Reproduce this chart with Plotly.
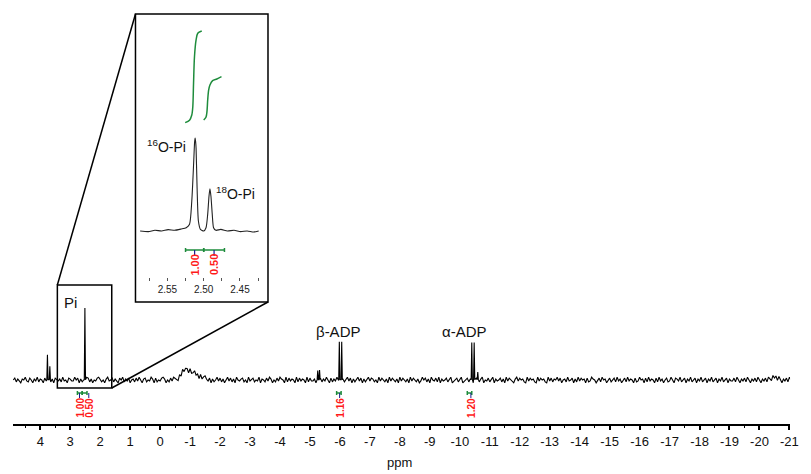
import plotly.graph_objects as go

W, H = 811, 474


def px(x):
    return x / W


def py(y):
    return 1 - y / H


# ---------------- data ----------------
# main spectrum baseline noise read as digits (4 = baseline), ppm grid 4.9 -> -21, step 0.05
grid_start = 4.9
grid_step = 0.05
noise_scale = 1.3
noise_digits = (
    "4625315473264153725416374251643527341653"
    "3746152437625143675241573462531647253614"
    "5263741562437516243675142637541627354162"
    "4735162574361524736251473625174356241735"
    "6243715426375142637541726354172635417263"
    "3517462537416253746152473615247361524736"
    "5241736425173642517364251736425137462517"
    "4362715346257134625713462571364257143625"
    "7153462517364215736452173645217364521736"
    "2547361452734615273645162375413627451362"
    "4627351462735416237451627354162735146237"
    "4165372461537246153724615372461537246153"
    "3627415362741536274153627415362741536274"
)
# broad hump near -0.9 ppm and a small one near -20.5 ppm
hump_ppm = [-0.50, -0.55, -0.60, -0.65, -0.70, -0.75, -0.80, -0.85, -0.90, -0.95, -1.00,
            -1.05, -1.10, -1.15, -1.20, -1.25, -1.30, -1.35, -1.40, -1.45, -1.50, -1.55,
            -20.35, -20.40, -20.45, -20.50, -20.55, -20.60, -20.65]
hump_height = [1, 2, 3, 5, 8, 11, 13, 15, 16, 14, 13,
               12, 10, 9, 8, 7, 6, 5, 4, 3, 2, 1,
               1, 3, 5, 4, 3, 2, 1]

peak_ppm = [3.76, 3.68, 2.51, -5.26, -5.32, -5.98, -6.06, -10.40, -10.48, -10.60]
peak_height = [35, 19, 100, 13, 14, 53, 53, 52, 52, 11]

# main integrations
main_integ_from = [2.76, 2.60, -5.89, -10.25]
main_integ_to = [2.60, 2.44, -6.04, -10.40]
main_integ_label_ppm = [2.69, 2.38, -5.99, -10.37]
main_integ_values = ["1.00", "0.50", "1.16", "1.20"]

# main axis ticks
main_tick_vals = list(range(4, -22, -1))
main_tick_text = [str(v) for v in main_tick_vals]
main_minor_vals = [v + 0.5 for v in range(4, -21, -1)]

# peak labels
peak_label_text = ["Pi", "β-ADP", "α-ADP"]
peak_label_ppm = [3.0, -5.95, -10.15]

# inset spectrum (ppm, intensity with 16O-Pi = 100)
inset_ppm = [2.5876, 2.5763, 2.5672, 2.5581, 2.5490, 2.5400, 2.5309, 2.5241, 2.5195,
             2.5164, 2.5145, 2.5132, 2.5125, 2.5118, 2.5111, 2.5105, 2.5091, 2.5073,
             2.5045, 2.5000, 2.4968, 2.4945, 2.4927, 2.4914, 2.4900, 2.4882, 2.4864,
             2.4832, 2.4764, 2.4673, 2.4582, 2.4491, 2.4401, 2.4310, 2.4242]
inset_int = [1.1, 0.4, 1.8, 1.1, 2.5, 1.8, 3.2, 4.6, 8.2,
             33, 62, 85, 96, 100, 96, 89, 47, 11.7,
             2.8, 1.1, 4.6, 18.8, 38, 46, 38, 18.8, 4.6,
             1.8, 2.8, 1.1, 1.8, 0.4, 1.1, 0.0, 1.1]

# inset integral curves
integ1_ppm = [2.5255, 2.5195, 2.5164, 2.5150, 2.5140, 2.5127, 2.5105, 2.5082, 2.5027]
integ1_val = [116.3, 119, 124.5, 133.3, 158.2, 186.5, 204.3, 211.4, 213.8]
integ2_ppm = [2.5000, 2.4969, 2.4955, 2.4945, 2.4932, 2.4914, 2.4877, 2.4819, 2.4755]
integ2_val = [119.1, 122, 128, 140.4, 151, 156.4, 161, 162.8, 165.2]

# inset integrations
inset_integ_from = [2.5250, 2.5000]
inset_integ_to = [2.5000, 2.4714]
inset_integ_values = ["1.00", "0.50"]

inset_tick_vals = [2.55, 2.50, 2.45]
inset_tick_text = ["2.55", "2.50", "2.45"]
inset_minor_vals = [2.575, 2.525, 2.475, 2.425]
inset_labels = ["<sup>16</sup>O-Pi", "<sup>18</sup>O-Pi"]

# ---------------- build main trace ----------------
hump = {round(p, 2): h for p, h in zip(hump_ppm, hump_height)}
grid_ppm = [round(grid_start - grid_step * i, 2) for i in range(len(noise_digits))]
grid_val = [(int(c) - 4) * noise_scale + hump.get(p, 0) for p, c in zip(grid_ppm, noise_digits)]
pts = [(p, v) for p, v in zip(grid_ppm, grid_val)
       if all(abs(p - q) > 0.025 for q in peak_ppm)]
for p, h in zip(peak_ppm, peak_height):
    pts += [(p + 0.02, 0.5), (p, h), (p - 0.02, 0.5)]
pts.sort(key=lambda t: -t[0])
main_x = [p for p, _ in pts]
main_y = [v for _, v in pts]

GREEN = "#1e8c3c"
RED = "#ff1a1a"
NAVY = "#1c1c8c"
FONT = "Liberation Sans, Arial, sans-serif"

fig = go.Figure()
fig.add_trace(go.Scatter(x=main_x, y=main_y, mode="lines",
                         line=dict(color="black", width=1.1), xaxis="x", yaxis="y",
                         hoverinfo="skip"))
fig.add_trace(go.Scatter(x=inset_ppm, y=inset_int, mode="lines",
                         line=dict(color="#222222", width=1.1, shape="spline", smoothing=0.6),
                         xaxis="x2", yaxis="y2", hoverinfo="skip"))
fig.add_trace(go.Scatter(x=integ1_ppm, y=integ1_val, mode="lines",
                         line=dict(color=GREEN, width=1.5, shape="spline", smoothing=0.8),
                         xaxis="x2", yaxis="y2", hoverinfo="skip"))
fig.add_trace(go.Scatter(x=integ2_ppm, y=integ2_val, mode="lines",
                         line=dict(color=GREEN, width=1.5, shape="spline", smoothing=0.8),
                         xaxis="x2", yaxis="y2", hoverinfo="skip"))

shapes = []
ann = []

# box around Pi, zoom lines and inset frame
shapes.append(dict(type="rect", xref="paper", yref="paper", x0=px(58), x1=px(113),
                   y0=py(388), y1=py(285), line=dict(color="black", width=1.5)))
shapes.append(dict(type="rect", xref="paper", yref="paper", x0=px(137), x1=px(271),
                   y0=py(302), y1=py(14), line=dict(color="black", width=1.5)))
shapes.append(dict(type="line", xref="paper", yref="paper", x0=px(58), y0=py(285),
                   x1=px(137), y1=py(14), line=dict(color="black", width=1.5)))
shapes.append(dict(type="line", xref="paper", yref="paper", x0=px(113), y0=py(388),
                   x1=px(271), y1=py(302), line=dict(color="black", width=1.5)))

# main integrations
for a, b, lp, val in zip(main_integ_from, main_integ_to, main_integ_label_ppm, main_integ_values):
    y0 = 393
    shapes.append(dict(type="line", xref="x", yref="paper", x0=a, x1=b, y0=py(y0), y1=py(y0),
                       line=dict(color=GREEN, width=1.5)))
    for e in (a, b):
        shapes.append(dict(type="line", xref="x", yref="paper", x0=e, x1=e,
                           y0=py(y0 - 2), y1=py(y0 + 2), line=dict(color=GREEN, width=1.5)))
    shapes.append(dict(type="line", xref="x", yref="paper", x0=lp, x1=lp,
                       y0=py(y0), y1=py(y0 + 5), line=dict(color=NAVY, width=1)))
    ann.append(dict(x=lp, y=py(408), xref="x", yref="paper", text="<b>%s</b>" % val,
                    showarrow=False, textangle=-90, xanchor="center", yanchor="middle",
                    font=dict(family=FONT, size=10, color=RED)))

# inset integrations
for a, b, val in zip(inset_integ_from, inset_integ_to, inset_integ_values):
    y0 = 250
    mid = (a + b) / 2
    shapes.append(dict(type="line", xref="x2", yref="paper", x0=a, x1=b, y0=py(y0), y1=py(y0),
                       line=dict(color=GREEN, width=1.5)))
    for e in (a, b):
        shapes.append(dict(type="line", xref="x2", yref="paper", x0=e, x1=e,
                           y0=py(y0 - 2), y1=py(y0 + 2), line=dict(color=GREEN, width=1.5)))
    shapes.append(dict(type="line", xref="x2", yref="paper", x0=mid, x1=mid,
                       y0=py(y0), y1=py(y0 + 6), line=dict(color=NAVY, width=1.2)))
    ann.append(dict(x=mid, y=py(265), xref="x2", yref="paper", text="<b>%s</b>" % val,
                    showarrow=False, textangle=-90, xanchor="center", yanchor="middle",
                    font=dict(family=FONT, size=11, color=RED)))

# peak labels
peak_label_y = [302, 331, 331]
for t, p, yy in zip(peak_label_text, peak_label_ppm, peak_label_y):
    ann.append(dict(x=p, y=py(yy), xref="x", yref="paper", text=t, showarrow=False,
                    xanchor="center", yanchor="middle",
                    font=dict(family=FONT, size=15, color="#111111")))

# inset peak labels
ann.append(dict(x=px(168), y=py(146), xref="paper", yref="paper", text=inset_labels[0],
                showarrow=False, xanchor="center", yanchor="middle",
                font=dict(family=FONT, size=14, color="#111111")))
ann.append(dict(x=px(238), y=py(193), xref="paper", yref="paper", text=inset_labels[1],
                showarrow=False, xanchor="center", yanchor="middle",
                font=dict(family=FONT, size=14, color="#111111")))

# axis title
ann.append(dict(x=px(404), y=py(462), xref="paper", yref="paper", text="ppm",
                showarrow=False, xanchor="center", yanchor="middle",
                font=dict(family=FONT, size=13, color="#111111")))

x_lo, x_hi = 4.914, -21.02
fig.update_layout(
    width=W, height=H,
    margin=dict(l=0, r=0, t=0, b=0),
    paper_bgcolor="white", plot_bgcolor="rgba(0,0,0,0)",
    showlegend=False,
    font=dict(family=FONT, color="#111111"),
    xaxis=dict(domain=[px(13), px(798.9)], range=[x_lo, x_hi], anchor="y",
               showline=True, linecolor="black", linewidth=2,
               ticks="outside", ticklen=4, tickwidth=1.5, tickcolor="black",
               tickmode="array", tickvals=main_tick_vals, ticktext=main_tick_text,
               tickfont=dict(family=FONT, size=13, color="#111111"),
               minor=dict(tickmode="array", tickvals=main_minor_vals, ticks="outside",
                          ticklen=2, tickwidth=1, tickcolor="black", showgrid=False),
               showgrid=False, zeroline=False),
    yaxis=dict(domain=[py(424), py(300)], range=[-61.11, 111.11], visible=False,
               anchor="x"),
    xaxis2=dict(domain=[px(137), px(271)], range=[2.594, 2.4114], anchor="y2",
                showline=False, ticks="outside", ticklen=3, tickwidth=1, tickcolor="#555555",
                tickmode="array", tickvals=inset_tick_vals, ticktext=inset_tick_text,
                tickfont=dict(family=FONT, size=10, color="#222222"),
                minor=dict(tickmode="array", tickvals=inset_minor_vals, ticks="outside",
                           ticklen=3, tickwidth=1, tickcolor="#555555", showgrid=False),
                showgrid=False, zeroline=False),
    yaxis2=dict(domain=[py(277), py(14)], range=[-47.87, 231.9], visible=False, anchor="x2"),
    shapes=shapes,
    annotations=ann,
    hovermode=False,
)

fig.write_html(
    "out.html",
    config={"displayModeBar": False},
    post_script="document.body.style.margin='0';document.body.style.overflow='hidden';",
)
